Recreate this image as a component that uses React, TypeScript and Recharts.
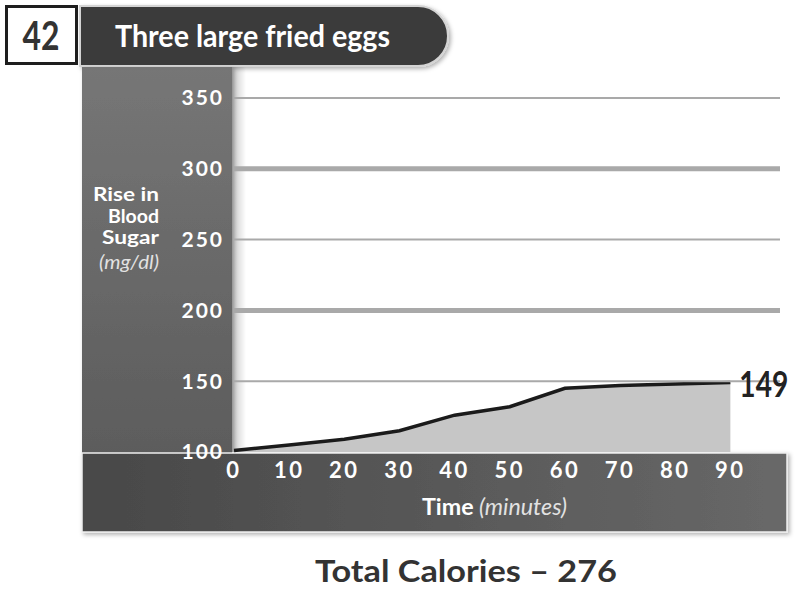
import { ComposedChart, Area, XAxis, YAxis, ReferenceLine, LabelList } from "recharts";

const minutes = [0, 10, 20, 30, 40, 50, 60, 70, 80, 90];
const riseInSugar = [101, 105, 109, 115, 126, 132, 145, 147, 148, 149];
const yTicks = [100, 150, 200, 250, 300, 350];
const xTicks = minutes;

const data = minutes.map((m, i) => ({ minute: m, sugar: riseInSugar[i] }));

const FONT = "Lato, 'Open Sans', sans-serif";

const lastLabel = (props: any) => {
	const { x, y, index, value } = props;
	if (index !== riseInSugar.length - 1) return null;
	return (
		<text
			transform={`translate(${x + 9},${y + 14}) scale(0.76,1)`}
			fontFamily={FONT}
			fontSize={37}
			fontWeight={700}
			fill="#222"
		>
			{value}
		</text>
	);
};

function Backdrop() {
	return (
		<svg width={799} height={592} style={{ position: "absolute", left: 0, top: 0 }}>
			<defs>
				<linearGradient id="panel" x1="0" y1="0" x2="0" y2="1">
					<stop offset="0%" stopColor="#767676" />
					<stop offset="100%" stopColor="#575757" />
				</linearGradient>
				<linearGradient id="band" x1="0" y1="0" x2="1" y2="0">
					<stop offset="0%" stopColor="#484848" />
					<stop offset="100%" stopColor="#686868" />
				</linearGradient>
				<linearGradient id="inner" x1="0" y1="0" x2="1" y2="0">
					<stop offset="0%" stopColor="rgba(0,0,0,0.22)" />
					<stop offset="100%" stopColor="rgba(0,0,0,0)" />
				</linearGradient>
				<filter id="shadow" x="-5%" y="-5%" width="110%" height="120%">
					<feDropShadow dx="2" dy="2" stdDeviation="2" floodColor="#000" floodOpacity="0.3" />
				</filter>
			</defs>

			{/* number box */}
			<rect x={6.5} y={6.5} width={70} height={57} fill="#fff" stroke="#1e1e1e" strokeWidth={3} />
			<text x={41} y={50} textAnchor="middle" fontFamily={FONT} fontSize={40} fontWeight={700} fill="#333"
				textLength={37} lengthAdjust="spacingAndGlyphs">42</text>

			{/* title bar */}
			<path d="M80,6 H418 A30,30 0 0 1 418,66 H80 Z" fill="#3a3a3a" stroke="#d4d4d4" strokeWidth={2} filter="url(#shadow)" />
			<text x={115} y={47} fontFamily={FONT} fontSize={31} fontWeight={700} fill="#fff"
				textLength={275} lengthAdjust="spacingAndGlyphs">Three large fried eggs</text>

			{/* frame */}
			<g filter="url(#shadow)">
				<rect x={82} y={67} width={150} height={465} fill="url(#panel)" />
				<rect x={82} y={453} width={705} height={79} fill="url(#band)" stroke="#eee" strokeWidth={1.5} />
			</g>
			<rect x={232} y={67} width={14} height={385} fill="url(#inner)" />

			{/* y axis title */}
			<g fontFamily={FONT} fill="#fff" fontWeight={700} fontSize={19} textAnchor="end">
				<text x={159} y={201} textLength={66} lengthAdjust="spacingAndGlyphs">Rise in</text>
				<text x={159} y={223} textLength={51} lengthAdjust="spacingAndGlyphs">Blood</text>
				<text x={159} y={244} textLength={57} lengthAdjust="spacingAndGlyphs">Sugar</text>
			</g>
			<text x={159} y={269} textAnchor="end" fontFamily={FONT} fontStyle="italic" fontSize={19} fill="#e2e2e2"
				textLength={60} lengthAdjust="spacingAndGlyphs">(mg/dl)</text>

			{/* x axis title */}
			<text x={422} y={515} fontFamily={FONT} fontSize={23} fill="#fff" textLength={145} lengthAdjust="spacingAndGlyphs">
				<tspan fontWeight={700}>Time</tspan>
				<tspan fontStyle="italic" fill="#e2e2e2"> (minutes)</tspan>
			</text>

			{/* footer */}
			<text x={315} y={582} fontFamily={FONT} fontSize={31} fontWeight={700} fill="#333"
				textLength={302} lengthAdjust="spacingAndGlyphs">Total Calories – 276</text>
		</svg>
	);
}

export default function App() {
	return (
		<div style={{ position: "absolute", left: 0, top: 0, width: 799, height: 592, background: "#fff" }}>
			<Backdrop />
			<div style={{ position: "absolute", left: 0, top: 0 }}>
				<ComposedChart
					width={799}
					height={592}
					data={data}
					margin={{ top: 98, right: 19, bottom: 110, left: 174 }}
				>
					<XAxis
						dataKey="minute"
						type="number"
						domain={[0, 99]}
						ticks={xTicks}
						height={30}
						axisLine={false}
						tickLine={false}
						tickSize={0}
						tickMargin={10}
						tick={{ fill: "#fff", fontSize: 22, fontWeight: 700, fontFamily: FONT, letterSpacing: 2.5 }}
					/>
					<YAxis
						type="number"
						domain={[100, 350]}
						ticks={yTicks}
						width={60}
						axisLine={false}
						tickLine={false}
						tickSize={0}
						tickMargin={10}
						tick={{ fill: "#fff", fontSize: 21, fontWeight: 700, fontFamily: FONT, letterSpacing: 2 }}
					/>
					{yTicks.slice(1).map((v) => (
						<ReferenceLine
							key={v}
							y={v}
							stroke="#a9a9a9"
							strokeWidth={v % 100 === 0 ? 5 : 2}
						/>
					))}
					<Area
						type="linear"
						dataKey="sugar"
						fill="#c6c6c6"
						fillOpacity={1}
						stroke="#1b1b1b"
						strokeWidth={3.5}
						dot={false}
						activeDot={false}
						isAnimationActive={false}
					>
						<LabelList dataKey="sugar" content={lastLabel} />
					</Area>
				</ComposedChart>
			</div>
		</div>
	);
}
